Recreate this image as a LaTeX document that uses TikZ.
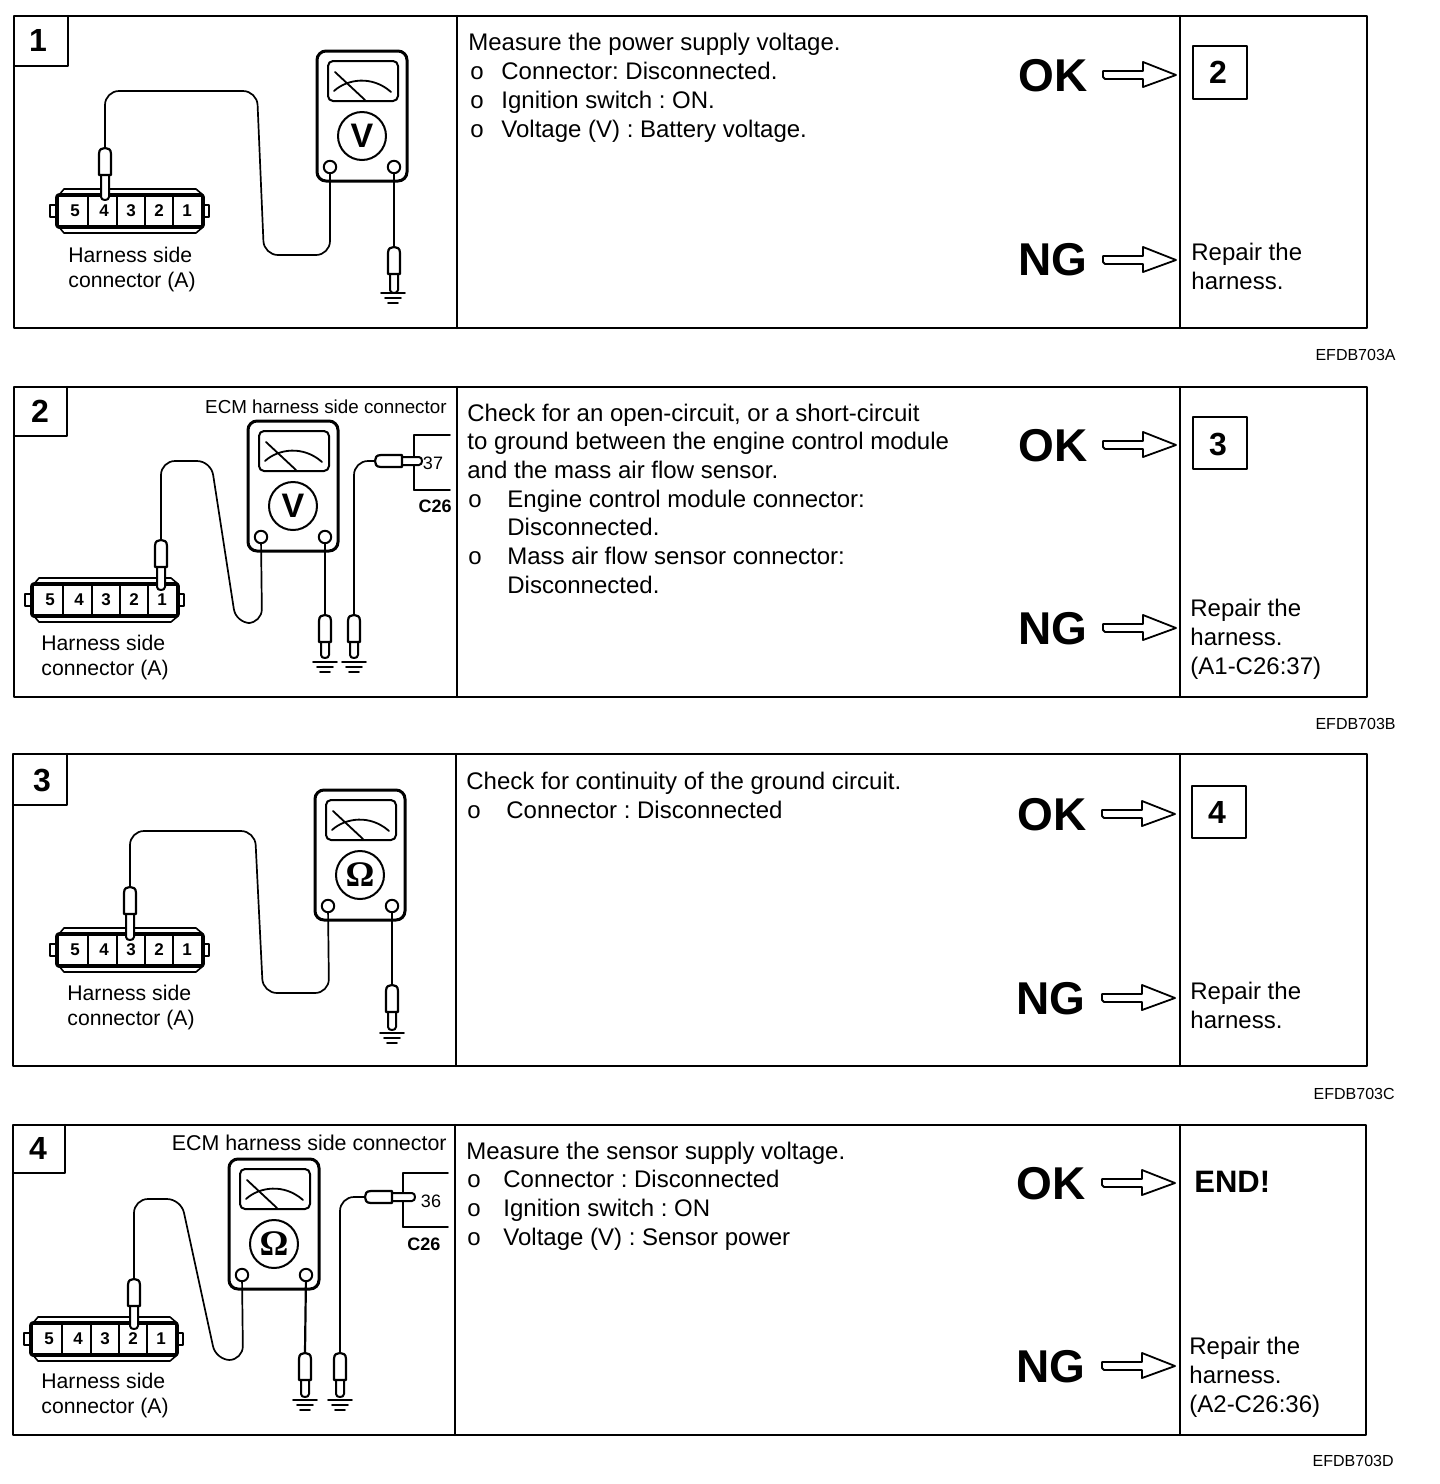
\documentclass[tikz,border=0pt]{standalone}
\usepackage{fontspec}
\setmainfont{Liberation Sans}
\newfontfamily\omfont{Liberation Serif}
\frenchspacing
\tikzset{
    frame/.style={line width=1.2pt},
    wire/.style={line width=0.85pt, rounded corners=7pt},
    lead/.style={line width=1.1pt},
    meterline/.style={line width=1.5pt},
    body/.style={anchor=base west, inner sep=0pt, font=\fontsize{12}{14}\selectfont},
    small/.style={anchor=base west, inner sep=0pt, font=\fontsize{10.6}{12}\selectfont},
    pin no/.style={inner sep=0pt, font=\fontsize{8.5}{10}\selectfont\bfseries},
    verdict/.style={anchor=base west, inner sep=0pt, font=\fontsize{23}{26}\selectfont\bfseries},
    stepno/.style={inner sep=0pt, font=\fontsize{16}{18}\selectfont\bfseries},
    code/.style={anchor=base east, inner sep=0pt, font=\fontsize{8}{9}\selectfont},
    contact/.style={circle, draw, fill=white, line width=1pt, minimum size=6.2pt, inner sep=0pt}
}
% Meter: name, left, top, sign
\newcommand{\meter}[4]{
\begin{scope}[shift={(#2,#3)}]
\draw[meterline, rounded corners=4.5pt] (0,0) rectangle (90,130);
\draw[line width=1pt, rounded corners=2.5pt] (11,10) rectangle (81,50);
\draw[line width=0.9pt] (18,21) -- (48,49);
\draw[line width=0.9pt] (17,40) .. controls (30,28) and (55,24) .. (74,41);
\node[circle, draw, line width=1pt, minimum size=24pt, inner sep=0pt] (#1d) at (45,85) {#4};
\node[contact] (#1l) at (13,116) {};
\node[contact] (#1r) at (77,116) {};
\end{scope}
}
% Harness connector: left, top, and the numbers in place
\newcommand{\harness}[2]{
\begin{scope}[shift={(#1,#2)}]
\draw[line width=0.8pt] (-7,16) rectangle (0,28);
\draw[line width=0.8pt] (146,16) rectangle (152,28);
\draw[line width=0.8pt] (2,6) -- (7,0) -- (139,0) -- (146,6);
\draw[line width=0.8pt] (2,38) -- (7,44) -- (139,44) -- (146,38);
\draw[line width=1.8pt, rounded corners=1pt] (0,6) rectangle (146,38);
\draw[line width=0.6pt] (31,6) -- (31,38);
\draw[line width=0.6pt] (60,6) -- (60,38);
\draw[line width=0.6pt] (88,6) -- (88,38);
\draw[line width=0.6pt] (116,6) -- (116,38);
\node[pin no] at (18,22) {5};
\node[pin no] at (47,22) {4};
\node[pin no] at (74,22) {3};
\node[pin no] at (102,22) {2};
\node[pin no] at (130,22) {1};
\end{scope}
}
% Probe: rotation, name, x, y of the wire end, length to the tip
\newcommand{\probe}[5][0]{
\coordinate (#2) at (#3,#4);
\begin{scope}[shift={(#3,#4)}, rotate=#1]
\draw[line width=1pt, fill=white] (-4,26) -- (-4,#5-3) .. controls (-4,#5+1) and (4,#5+1) .. (4,#5-3) -- (4,26);
\draw[line width=1.1pt, fill=white] (-6,27) -- (-6,6) .. controls (-6,1) and (-3,0) .. (0,0) .. controls (3,0) and (6,1) .. (6,6) -- (6,27) -- cycle;
\end{scope}
}
% Earth symbol
\newcommand{\earth}[2]{
\draw[line width=0.9pt] (#1-12,#2) -- (#1+12,#2);
\draw[line width=0.9pt] (#1-8,#2+5) -- (#1+8,#2+5);
\draw[line width=0.9pt] (#1-5,#2+10) -- (#1+5,#2+10);
}
% Hollow arrow
\newcommand{\hollow}[2]{
\draw[line width=0.9pt] (#1,#2-4) -- (#1+40,#2-4) -- (#1+40,#2-13) -- (#1+73,#2) -- (#1+40,#2+12) -- (#1+40,#2+4) -- (#1+2,#2+4) -- (#1,#2+2) -- (#1,#2-2) -- cycle;
}
\begin{document}
\begin{tikzpicture}[x=0.5pt, y=-0.5pt, line cap=round, line join=round]
\useasboundingbox (0,0) rectangle (1440,1484);

% Step 1
\draw[frame] (14,16) rectangle (1367,328);
\draw[frame] (457,16) -- (457,328);
\draw[frame] (1180,16) -- (1180,328);
\draw[frame] (14,66) -- (68,66) -- (68,16);
\node[stepno] (n1) at (38,40) {1};
\meter{ma}{317}{51}{\fontsize{17}{18}\selectfont\bfseries V}
\harness{57}{189}
\probe{pa}{105}{148}{52}
\draw[wire] (pa) -- (105,91) -- (257,91) -- (264,255) -- (330,255) -- (mal);
\draw[lead] (mar) -- (394,247);
\probe{gpa}{394}{247}{46}
\earth{393}{293}
\node[small] (ha) at (68,262) {Harness side};
\node[small] (hb) at (68,287) {connector (A)};
\node[body] (ta) at (468,50) {Measure the power supply voltage.};
\node[body] (tb) at (470,79) {o};
\node[body] (tc) at (501,79) {Connector: Disconnected.};
\node[body] (td) at (470,108) {o};
\node[body] (te) at (501,108) {Ignition switch : ON.};
\node[body] (tf) at (470,137) {o};
\node[body] (tg) at (501,137) {Voltage (V) : Battery voltage.};
\node[verdict] (oka) at (1018,91) {OK};
\node[verdict] (nga) at (1018,275) {NG};
\hollow{1103}{75}
\hollow{1103}{260}
\draw[frame] (1193,46) rectangle (1247,99);
\node[stepno] (nxa) at (1218,72) {2};
\node[body] (ra) at (1191,260) {Repair the};
\node[body] (rb) at (1191,289) {harness.};
\node[code] (ca) at (1396,360) {EFDB703A};

% Step 2
\draw[frame] (14,387) rectangle (1367,697);
\draw[frame] (457,387) -- (457,697);
\draw[frame] (1180,387) -- (1180,697);
\draw[frame] (14,436) -- (67,436) -- (67,387);
\node[stepno] (n2) at (40,411) {2};
\node[anchor=base east, inner sep=0pt, font=\fontsize{9.4}{11}\selectfont] (ecb) at (447,413) {ECM harness side connector};
\meter{mb}{248}{421}{\fontsize{17}{18}\selectfont\bfseries V}
\harness{32}{578}
\probe{pb}{161}{540}{50}
\draw[wire] (pb) -- (161,461) -- (211,461) -- (236,623) -- (262,623) -- (mbl);
\draw[lead] (mbr) -- (325,615);
\probe{gpb}{325}{615}{43}
\earth{325}{662}
\draw[line width=0.9pt] (414,435) -- (414,490);
\draw[line width=0.9pt] (414,435) -- (450,435);
\draw[line width=0.9pt] (414,490) -- (450,490);
\probe{gpc}{354}{615}{43}
\earth{354}{662}
\probe[90]{hb1}{375}{461}{47}
\draw[wire] (gpc) -- (354,461) -- (hb1);
\node[inner sep=0pt, font=\fontsize{9}{11}\selectfont] (pn2) at (433,463) {37};
\node[anchor=base east, inner sep=0pt, font=\fontsize{9}{10}\selectfont\bfseries] (cb) at (452,512) {C26};
\node[small] (hc) at (41,650) {Harness side};
\node[small] (hd) at (41,675) {connector (A)};
\node[body] (ua) at (467,421) {Check for an open-circuit, or a short-circuit};
\node[body] (ub) at (467,449) {to ground between the engine control module};
\node[body] (uc) at (467,478) {and the mass air flow sensor.};
\node[body] (ud) at (468,507) {o};
\node[body] (ue) at (507,507) {Engine control module connector:};
\node[body] (uf) at (507,535) {Disconnected.};
\node[body] (ug) at (468,564) {o};
\node[body] (uh) at (507,564) {Mass air flow sensor connector:};
\node[body] (ui) at (507,593) {Disconnected.};
\node[verdict] (okb) at (1018,461) {OK};
\node[verdict] (ngb) at (1018,644) {NG};
\hollow{1103}{445}
\hollow{1103}{628}
\draw[frame] (1193,417) rectangle (1247,469);
\node[stepno] (nxb) at (1218,444) {3};
\node[body] (rc) at (1190,616) {Repair the};
\node[body] (rd) at (1190,645) {harness.};
\node[body] (re) at (1190,674) {(A1-C26:37)};
\node[code] (cc) at (1396,729) {EFDB703B};

% Step 3
\draw[frame] (13,754) rectangle (1367,1066);
\draw[frame] (456,754) -- (456,1066);
\draw[frame] (1180,754) -- (1180,1066);
\draw[frame] (13,805) -- (67,805) -- (67,754);
\node[stepno] (n3) at (42,780) {3};
\meter{mc}{315}{790}{\omfont\fontsize{18}{18}\selectfont\bfseries\char"03A9}
\harness{57}{928}
\probe{pc}{130}{887}{53}
\draw[wire] (pc) -- (130,831) -- (255,831) -- (263,993) -- (329,993) -- (mcl);
\draw[lead] (mcr) -- (392,985);
\probe{gpd}{392}{985}{45}
\earth{392}{1033}
\node[small] (he) at (67,1000) {Harness side};
\node[small] (hf) at (67,1025) {connector (A)};
\node[body] (va) at (466,789) {Check for continuity of the ground circuit.};
\node[body] (vb) at (467,818) {o};
\node[body] (vc) at (506,818) {Connector : Disconnected};
\node[verdict] (okc) at (1017,830) {OK};
\node[verdict] (ngc) at (1016,1014) {NG};
\hollow{1102}{814}
\hollow{1102}{998}
\draw[frame] (1192,786) rectangle (1246,838);
\node[stepno] (nxc) at (1217,812) {4};
\node[body] (rf) at (1190,999) {Repair the};
\node[body] (rg) at (1190,1028) {harness.};
\node[code] (ce) at (1395,1099) {EFDB703C};

% Step 4
\draw[frame] (13,1125) rectangle (1366,1435);
\draw[frame] (455,1125) -- (455,1435);
\draw[frame] (1180,1125) -- (1180,1435);
\draw[frame] (13,1173) -- (65,1173) -- (65,1125);
\node[stepno] (n4) at (38,1148) {4};
\node[anchor=base east, inner sep=0pt, font=\fontsize{10.7}{12}\selectfont] (ecd) at (447,1150) {ECM harness side connector};
\meter{md}{229}{1159}{\omfont\fontsize{18}{18}\selectfont\bfseries\char"03A9}
\harness{31}{1317}
\probe{pd}{134}{1279}{50}
\draw[wire] (pd) -- (134,1199) -- (181,1199) -- (216,1360) -- (243,1360) -- (mdl);
\draw[lead] (mdr) -- (305,1353);
\probe{gpe}{305}{1353}{44}
\earth{305}{1400}
\draw[line width=0.9pt] (403,1173) -- (403,1227);
\draw[line width=0.9pt] (403,1173) -- (448,1173);
\draw[line width=0.9pt] (403,1227) -- (448,1227);
\probe{gpf}{340}{1353}{44}
\earth{340}{1400}
\probe[90]{hd1}{365}{1197}{50}
\draw[wire] (gpf) -- (340,1197) -- (hd1);
\node[inner sep=0pt, font=\fontsize{9}{11}\selectfont] (pn4) at (431,1201) {36};
\node[inner sep=0pt, font=\fontsize{9}{10}\selectfont\bfseries] (cd) at (424,1244) {C26};
\node[small] (hg) at (41,1388) {Harness side};
\node[small] (hh) at (41,1413) {connector (A)};
\node[body] (wa) at (466,1159) {Measure the sensor supply voltage.};
\node[body] (wb) at (467,1187) {o};
\node[body] (wc) at (503,1187) {Connector : Disconnected};
\node[body] (wd) at (467,1216) {o};
\node[body] (we) at (503,1216) {Ignition switch : ON};
\node[body] (wf) at (467,1245) {o};
\node[body] (wg) at (503,1245) {Voltage (V) : Sensor power};
\node[verdict] (okd) at (1016,1199) {OK};
\node[verdict] (ngd) at (1016,1382) {NG};
\hollow{1102}{1183}
\hollow{1102}{1366}
\node[anchor=base west, inner sep=0pt, font=\fontsize{15.5}{18}\selectfont\bfseries] (endd) at (1194,1192) {END!};
\node[body] (rh) at (1189,1354) {Repair the};
\node[body] (ri) at (1189,1383) {harness.};
\node[body] (rj) at (1189,1412) {(A2-C26:36)};
\node[code] (cg) at (1394,1466) {EFDB703D};
\end{tikzpicture}
\end{document}
